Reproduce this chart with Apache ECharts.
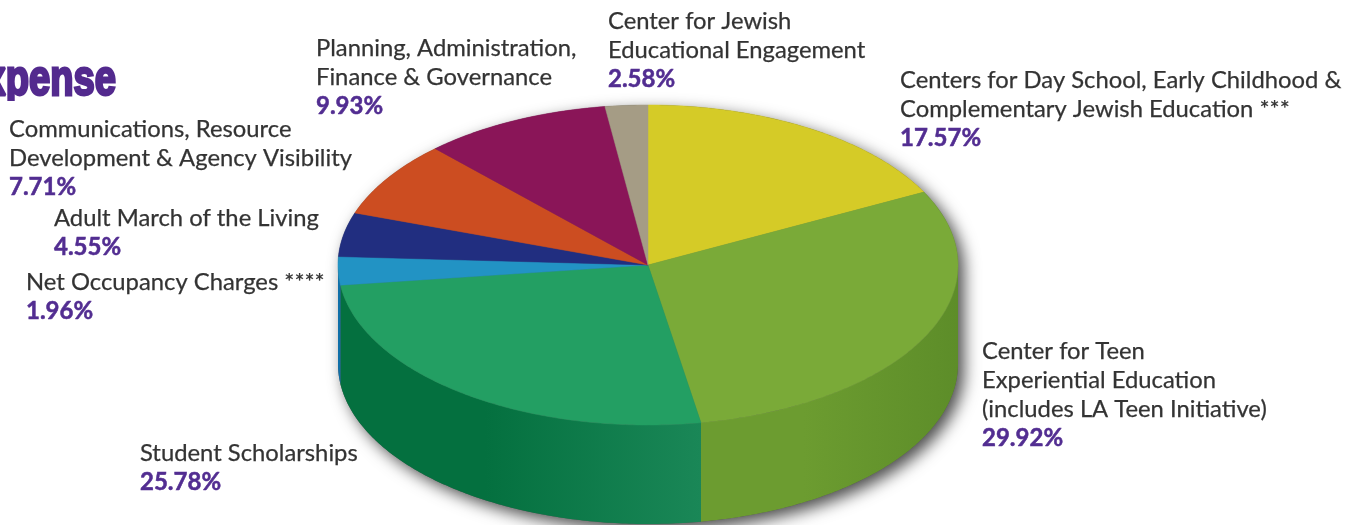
<!DOCTYPE html>
<html>
<head>
<meta charset="utf-8">
<style>html,body{margin:0;padding:0;background:#fff}#c{width:1358px;height:525px}</style>
<script src="https://cdn.jsdelivr.net/npm/echarts@6/dist/echarts.min.js"></script>
</head>
<body>
<div id="c"></div>
<script>
var categories = [
  ['Centers for Day School, Early Childhood &', 'Complementary Jewish Education ***'],
  ['Center for Teen', 'Experiential Education', '(includes LA Teen Initiative)'],
  ['Student Scholarships'],
  ['Net Occupancy Charges ****'],
  ['Adult March of the Living'],
  ['Communications, Resource', 'Development & Agency Visibility'],
  ['Planning, Administration,', 'Finance & Governance'],
  ['Center for Jewish', 'Educational Engagement']
];
var values = [17.57, 29.92, 25.78, 1.96, 4.55, 7.71, 9.93, 2.58];
var topColors = ['#d5cb27', '#7aaa38', '#239f63', '#2293c4', '#212e80', '#cc4d21', '#8a1558', '#a59c85'];
var wallColors = [null, ['#6c9c30', '#6c9c30', '#5d8d29'], ['#04703f', '#04703f', '#1a8757'], ['#0f6fa8', '#0f6fa8', '#0f6fa8'], null, null, null, null];
var labelAnchors = [[900, 66], [982, 337], [140, 439], [26, 268], [54, 204], [9, 115], [316, 34], [608, 7]];
// The reference's slices sit slightly off the angles its printed percentages imply;
// these small offsets (degrees, at each slice's end) reproduce the picture's edges.
var edgeNudge = [-0.35, -0.8, -1, 2.2, 1.8, 1.7, 1.3, 0];
var titleText = 'Expense';

var CX = 648, CY = 265, RX = 310, RY = 160, DEPTH = 99;
var LINE_H = 29, FONT = 'Lato';

function pt(deg, dy) {
  var r = deg * Math.PI / 180;
  return [CX + RX * Math.sin(r), CY - RY * Math.cos(r) + (dy || 0)];
}
function arc(a, b, dy) {
  var out = [], n = Math.max(2, Math.ceil(Math.abs(b - a) * 1.5));
  for (var i = 0; i <= n; i++) out.push(pt(a + (b - a) * i / n, dy));
  return out;
}
var total = values.reduce(function (s, v) { return s + v; }, 0);
var starts = [], ends = [], acc = 0;
values.forEach(function (v, i) {
  starts.push(i ? ends[i - 1] : 0);
  acc += v;
  ends.push(acc / total * 360 + edgeNudge[i]);
});

var graphics = [
  {
    type: 'text', x: -41, y: 57, scaleX: 0.72, scaleY: 0.93, z: 5,
    style: {
      text: titleText, fill: '#532a8e', stroke: '#532a8e', lineWidth: 3,
      font: 'bold 53px "Liberation Sans"'
    }
  },
  { type: 'rect', z: 6, shape: { x: 0, y: 101, width: 125, height: 14 }, style: { fill: '#fff' } }
];
categories.forEach(function (lines, i) {
  lines.forEach(function (line, k) {
    graphics.push({
      type: 'text', x: labelAnchors[i][0], y: labelAnchors[i][1] + k * LINE_H + LINE_H / 2, z: 10,
      style: { text: line, fill: '#333333', stroke: '#333333', lineWidth: 0.25, font: '23.8px ' + FONT, textVerticalAlign: 'middle' }
    });
  });
  graphics.push({
    type: 'text', x: labelAnchors[i][0], y: labelAnchors[i][1] + lines.length * LINE_H + LINE_H / 2, z: 10,
    style: { text: values[i].toFixed(2) + '%', fill: '#522d91', stroke: '#522d91', lineWidth: 0.5, font: 'bold 24px ' + FONT, textVerticalAlign: 'middle' }
  });
});

var chart = echarts.init(document.getElementById('c'), null, { renderer: 'canvas' });
chart.setOption({
  animation: false,
  backgroundColor: '#fff',
  graphic: graphics,
  series: [
    {
      type: 'custom', coordinateSystem: 'none', silent: true, z: 1,
      data: [total],
      renderItem: function () {
        return {
          type: 'polygon',
          shape: { points: arc(270, 450, 0).concat(arc(90, 270, DEPTH)) },
          style: {
            fill: '#555', shadowColor: 'rgba(0,0,0,0.7)', shadowBlur: 16,
            shadowOffsetX: 6, shadowOffsetY: 6
          }
        };
      }
    },
    {
      type: 'custom', coordinateSystem: 'none', silent: true, z: 2,
      data: values,
      renderItem: function (params) {
        var i = params.dataIndex;
        var a = starts[i], b = ends[i];
        var children = [];
        var wa = Math.max(a, 90), wb = Math.min(b, 270);
        if (wb > wa && wallColors[i]) {
          children.push({
            type: 'polygon',
            shape: { points: arc(wa, wb, 0).concat(arc(wb, wa, DEPTH)) },
            style: {
              fill: new echarts.graphic.LinearGradient(0, 0, 1, 0, [
                { offset: 0, color: wallColors[i][0] },
                { offset: 0.4, color: wallColors[i][1] },
                { offset: 1, color: wallColors[i][2] }
              ])
            }
          });
        }
        children.push({
          type: 'polygon',
          shape: { points: [[CX, CY]].concat(arc(a, b, 0)) },
          style: { fill: topColors[i], stroke: topColors[i], lineWidth: 0.5 }
        });
        return { type: 'group', children: children };
      }
    }
  ]
});
</script>
</body>
</html>
